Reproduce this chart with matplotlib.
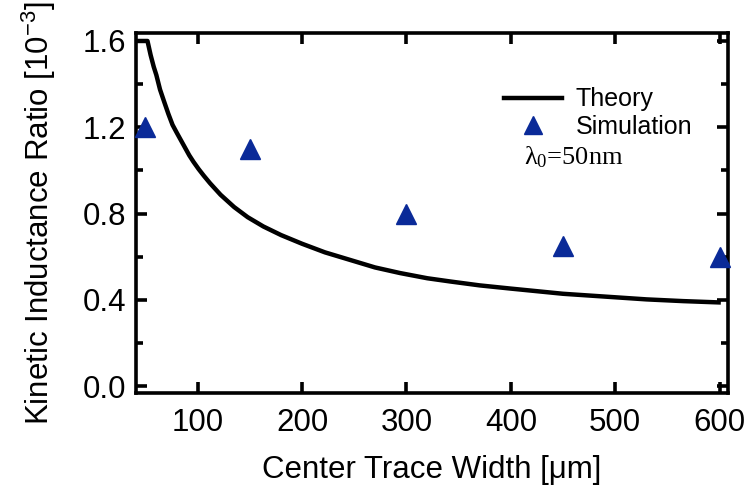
import matplotlib
matplotlib.use("Agg")
import matplotlib.pyplot as plt
from matplotlib.ticker import MultipleLocator

plt.rcParams['font.family'] = ['Liberation Sans', 'DejaVu Sans']
plt.rcParams['mathtext.default'] = 'regular'

# Theory curve
theory_w = [41, 52, 55, 58, 60.5, 64, 68, 72, 76, 80, 84, 88, 92, 96, 101, 106, 112,
            122, 135, 148, 163, 180, 200, 222, 246, 270, 294, 320, 342, 370, 400,
            450, 490, 530, 565, 599]
theory_ratio = [1.6, 1.6, 1.535, 1.48, 1.442, 1.375, 1.318, 1.262, 1.211, 1.175, 1.14,
                1.105, 1.07, 1.04, 1.006, 0.975, 0.94, 0.887, 0.83, 0.783, 0.74, 0.70,
                0.66, 0.62, 0.585, 0.55, 0.524, 0.50, 0.485, 0.467, 0.452, 0.428,
                0.415, 0.402, 0.394, 0.388]

# Simulation points
sim_w = [50, 150, 300, 450, 600]
sim_ratio = [1.20, 1.10, 0.80, 0.65, 0.60]

xticks = [100, 200, 300, 400, 500, 600]
yticks = [0.0, 0.4, 0.8, 1.2, 1.6]

fig = plt.figure(figsize=(7.48, 4.95), dpi=100)
ax = fig.add_axes([136/748, (495-393)/495, (728-136)/748, (393-33)/495])

ax.plot(theory_w, theory_ratio, color='black', lw=3.2, label='Theory',
        solid_joinstyle='round', zorder=3)
ax.plot(sim_w, sim_ratio, linestyle='none', marker='^', markersize=15,
        color='#0a2a98', label='Simulation', clip_on=False, zorder=4)

ax.set_xlim(41, 608)
ax.set_ylim(-0.032, 1.637)
ax.set_xticks(xticks)
ax.set_yticks(yticks)
ax.set_yticklabels([f'{v:.1f}' for v in yticks])
ax.yaxis.set_minor_locator(MultipleLocator(0.2))

for s in ax.spines.values():
    s.set_linewidth(2.6)
ax.tick_params(which='both', direction='in', top=True, right=True, width=2.6,
               labelsize=22.5)
ax.tick_params(axis='x', pad=11)
ax.tick_params(axis='y', pad=7)
ax.tick_params(which='major', length=8)
ax.tick_params(which='minor', length=5)

ax.set_xlabel('Center Trace Width [μm]', fontsize=22.5, labelpad=12)
ax.set_ylabel('Kinetic Inductance Ratio [10$^{-3}$]', fontsize=22.5, labelpad=18)

leg = ax.legend(loc='upper left', bbox_to_anchor=(0.605, 0.877), frameon=False,
                fontsize=18, handlelength=2.3, handletextpad=0.55, labelspacing=0.15,
                borderaxespad=0, markerscale=0.9)
ax.text(0.655, 0.656, '$λ_0$=50nm', transform=ax.transAxes, fontsize=19,
        family='Liberation Serif', ha='left', va='center')

fig.savefig('out.png', dpi=100)
